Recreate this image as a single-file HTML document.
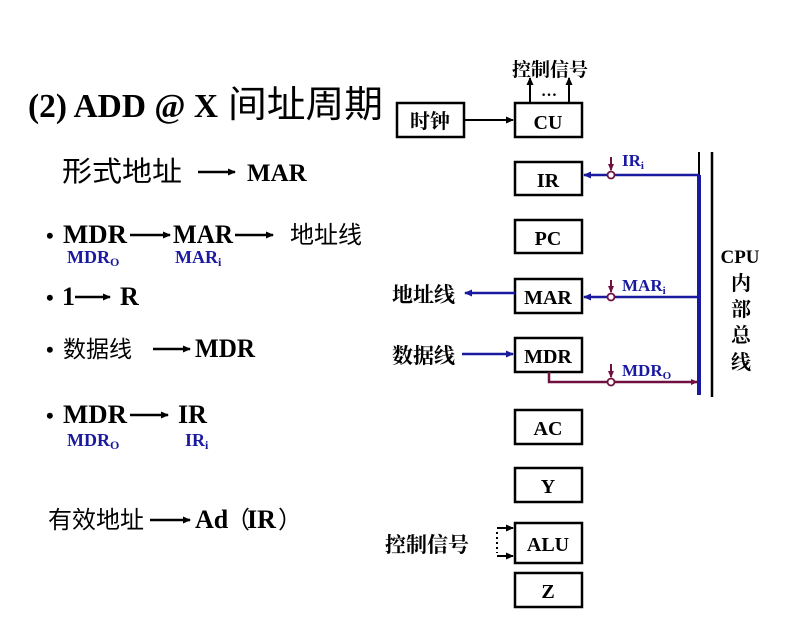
<!DOCTYPE html>
<html><head><meta charset="utf-8"><style>
html,body{margin:0;padding:0;background:#fff;}
svg{display:block;}
.s{font-family:"Liberation Serif","Noto Serif CJK SC",serif;font-weight:bold;}
.c{font-family:"Liberation Sans","Noto Sans CJK SC",sans-serif;}
.d{font-family:"Liberation Serif","Noto Serif CJK SC",serif;font-weight:bold;}
</style></head><body>
<svg width="797" height="633" viewBox="0 0 797 633" xmlns="http://www.w3.org/2000/svg">
<defs>
<marker id="ak" markerWidth="8" markerHeight="8" refX="7" refY="4" orient="auto" markerUnits="userSpaceOnUse"><path d="M0,0.5 L8,4 L0,7.5 Z" fill="#000"/></marker>
<marker id="ab" markerWidth="8" markerHeight="8" refX="7" refY="4" orient="auto" markerUnits="userSpaceOnUse"><path d="M0,0.5 L8,4 L0,7.5 Z" fill="#1a1aa0"/></marker>
<marker id="ap" markerWidth="7" markerHeight="7" refX="6" refY="3.5" orient="auto" markerUnits="userSpaceOnUse"><path d="M0,0.5 L7,3.5 L0,6.5 Z" fill="#701040"/></marker>
</defs>
<!-- Left text -->
<text x="28" y="117" class="s" font-size="34" textLength="190" lengthAdjust="spacingAndGlyphs">(2) ADD @ X</text>
<text x="228" y="117" class="c" font-size="37" textLength="155" lengthAdjust="spacingAndGlyphs">间址周期</text>
<text x="62" y="181" class="c" font-size="28" textLength="120" lengthAdjust="spacingAndGlyphs">形式地址</text>
<line x1="198" y1="172" x2="235" y2="172" stroke="#000" stroke-width="2.5" marker-end="url(#ak)"/>
<text x="247" y="181" class="s" font-size="25">MAR</text>

<text x="46" y="243" class="s" font-size="22">•</text>
<text x="63" y="243" class="s" font-size="26" textLength="64" lengthAdjust="spacingAndGlyphs">MDR</text>
<line x1="130" y1="235" x2="170" y2="235" stroke="#000" stroke-width="2.5" marker-end="url(#ak)"/>
<text x="173" y="243" class="s" font-size="26" textLength="60" lengthAdjust="spacingAndGlyphs">MAR</text>
<line x1="235" y1="235" x2="273" y2="235" stroke="#000" stroke-width="2.5" marker-end="url(#ak)"/>
<text x="290" y="243" class="c" font-size="24">地址线</text>
<text x="67" y="263" class="s" font-size="18" fill="#1a1aa0">MDR<tspan font-size="12" dy="3">O</tspan></text>
<text x="175" y="263" class="s" font-size="18" fill="#1a1aa0">MAR<tspan font-size="12" dy="3">i</tspan></text>

<text x="46" y="305" class="s" font-size="22">•</text>
<text x="62" y="305" class="s" font-size="26">1</text>
<line x1="75" y1="297" x2="110" y2="297" stroke="#000" stroke-width="2.5" marker-end="url(#ak)"/>
<text x="120" y="305" class="s" font-size="26">R</text>

<text x="46" y="357" class="s" font-size="22">•</text>
<text x="63" y="357" class="c" font-size="23">数据线</text>
<line x1="153" y1="349" x2="190" y2="349" stroke="#000" stroke-width="2.5" marker-end="url(#ak)"/>
<text x="195" y="357" class="s" font-size="26" textLength="60" lengthAdjust="spacingAndGlyphs">MDR</text>

<text x="46" y="423" class="s" font-size="22">•</text>
<text x="63" y="423" class="s" font-size="26" textLength="64" lengthAdjust="spacingAndGlyphs">MDR</text>
<line x1="130" y1="415" x2="168" y2="415" stroke="#000" stroke-width="2.5" marker-end="url(#ak)"/>
<text x="178" y="423" class="s" font-size="26">IR</text>
<text x="67" y="446" class="s" font-size="18" fill="#1a1aa0">MDR<tspan font-size="12" dy="3">O</tspan></text>
<text x="185" y="446" class="s" font-size="18" fill="#1a1aa0">IR<tspan font-size="12" dy="3">i</tspan></text>

<text x="48" y="528" class="c" font-size="24">有效地址</text>
<line x1="150" y1="520" x2="190" y2="520" stroke="#000" stroke-width="2.5" marker-end="url(#ak)"/>
<text x="195" y="528" class="s" font-size="26">Ad</text>
<text x="226" y="528" class="c" font-size="24">（</text>
<text x="247" y="528" class="s" font-size="26">IR</text>
<text x="278" y="528" class="c" font-size="24">）</text>

<!-- Boxes -->
<g fill="none" stroke="#000" stroke-width="2.5">
<rect x="397" y="103" width="67" height="34"/>
<rect x="515" y="103" width="67" height="34"/>
<rect x="515" y="162" width="67" height="33"/>
<rect x="515" y="220" width="67" height="33"/>
<rect x="515" y="279" width="67" height="34"/>
<rect x="515" y="338" width="67" height="34"/>
<rect x="515" y="410" width="67" height="34"/>
<rect x="515" y="468" width="67" height="34"/>
<rect x="515" y="523" width="67" height="40"/>
<rect x="515" y="573" width="67" height="34"/>
</g>
<g class="s" font-size="20" text-anchor="middle">
<text x="430" y="128" class="d" font-size="20">时钟</text>
<text x="548" y="129">CU</text>
<text x="548" y="187">IR</text>
<text x="548" y="245">PC</text>
<text x="548" y="304">MAR</text>
<text x="548" y="363">MDR</text>
<text x="548" y="435">AC</text>
<text x="548" y="493">Y</text>
<text x="548" y="551">ALU</text>
<text x="548" y="598">Z</text>
</g>
<line x1="464" y1="120" x2="513" y2="120" stroke="#000" stroke-width="2" marker-end="url(#ak)"/>
<line x1="530" y1="103" x2="530" y2="78" stroke="#000" stroke-width="2" marker-end="url(#ak)"/>
<line x1="569" y1="103" x2="569" y2="78" stroke="#000" stroke-width="2" marker-end="url(#ak)"/>
<text x="549" y="96" class="s" font-size="16" text-anchor="middle">…</text>
<text x="550" y="76" class="d" font-size="19" text-anchor="middle">控制信号</text>

<!-- bus -->
<line x1="699" y1="152" x2="699" y2="175" stroke="#000" stroke-width="2"/>
<line x1="699" y1="175" x2="699" y2="395" stroke="#1a1aa0" stroke-width="4"/>
<line x1="712" y1="152" x2="712" y2="397" stroke="#000" stroke-width="2.5"/>
<g class="d" font-size="20" text-anchor="middle">
<text x="740" y="263" font-size="19">CPU</text>
<text x="741" y="290">内</text>
<text x="741" y="316">部</text>
<text x="741" y="342">总</text>
<text x="741" y="369">线</text>
</g>
<line x1="699" y1="175" x2="584" y2="175" stroke="#1a1aa0" stroke-width="2.5" marker-end="url(#ab)"/>
<circle cx="611" cy="175" r="3.5" fill="#fff" stroke="#701040" stroke-width="1.8"/>
<line x1="611" y1="157" x2="611" y2="170" stroke="#701040" stroke-width="2" marker-end="url(#ap)"/>
<text x="622" y="166" class="s" font-size="17" fill="#1a1aa0">IR<tspan font-size="11" dy="3">i</tspan></text>
<line x1="699" y1="297" x2="584" y2="297" stroke="#1a1aa0" stroke-width="2.5" marker-end="url(#ab)"/>
<circle cx="611" cy="297" r="3.5" fill="#fff" stroke="#701040" stroke-width="1.8"/>
<line x1="611" y1="280" x2="611" y2="292" stroke="#701040" stroke-width="2" marker-end="url(#ap)"/>
<text x="622" y="291" class="s" font-size="17" fill="#1a1aa0">MAR<tspan font-size="11" dy="3">i</tspan></text>
<line x1="515" y1="293" x2="465" y2="293" stroke="#1a1aa0" stroke-width="2.5" marker-end="url(#ab)"/>
<text x="392" y="302" class="d" font-size="21">地址线</text>
<line x1="462" y1="354" x2="513" y2="354" stroke="#1a1aa0" stroke-width="2.5" marker-end="url(#ab)"/>
<text x="392" y="363" class="d" font-size="21">数据线</text>
<polyline points="549,372 549,382 697,382" fill="none" stroke="#701040" stroke-width="2.5" marker-end="url(#ap)"/>
<circle cx="611" cy="382" r="3.5" fill="#fff" stroke="#701040" stroke-width="1.8"/>
<line x1="611" y1="364" x2="611" y2="377" stroke="#701040" stroke-width="2" marker-end="url(#ap)"/>
<text x="622" y="376" class="s" font-size="17" fill="#1a1aa0">MDR<tspan font-size="11" dy="3">O</tspan></text>
<text x="385" y="552" class="d" font-size="21">控制信号</text>
<line x1="497" y1="528" x2="513" y2="528" stroke="#000" stroke-width="2" marker-end="url(#ak)"/>
<line x1="497" y1="556" x2="513" y2="556" stroke="#000" stroke-width="2" marker-end="url(#ak)"/>
<line x1="497" y1="532" x2="497" y2="553" stroke="#000" stroke-width="2" stroke-dasharray="2,3"/>
</svg>
</body></html>
